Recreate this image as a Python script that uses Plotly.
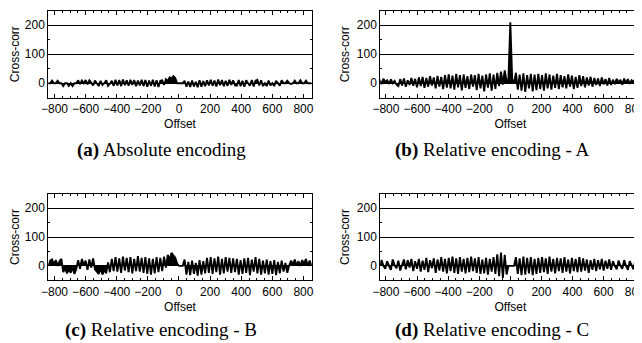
import plotly.graph_objects as go

# Offsets sampled every 12 lags (x positions of the cross-correlation samples)
offsets = list(range(-840, 853, 12))

corr_absolute = [
    0, 0, 9, 0, 0, 8, 0, 0,
    -10, 0, 0, -9, 0, -10, 0, 0,
    10, -3, 9, 0, 11, -4, 10, 2, -8, 9,
    0, -10, 8, -6, 0, 10, -9, -2, 8, -9,
    12, -8, 11, -10, 13, -7, 10, -9, 12, -6, 11, -10, 9, -8, 12,
    -10, 11, -12, 9, -9, 12, -11, 10, -13, 8,
    10, -6, 14, 8, 20, 15, 24, 18,
    0, 0, 0, 0,
    8, -12, 6, -13, 9, -11, 5, -14, 10, -12, 7, -10,
    10, -8, 12, -9, 9, -11, 13, -7, 11, -10, 8, -9, 12, -6, 10, -8,
    -9, 11, -10, 8, -12, 10, 0, -9, 11, -11, 9, 12, -8, 10, -10,
    0, -10, 9, -8, 0, -10, 8, 0, -9, 10,
    0, 0, 8, 0, -3, 0, 9, 0, 0, 10, 0, 0, 9, 0, 0, 0,
]

corr_relative_a = [
    12, -3, 15, 4, 10, -2, 13, 0, 8, -5,
    -10, 14, -8, 16, -12, 10, -6, 18, -9, 15,
    -14, 20, -10, 22, -16, 18, -12, 24, -8, 20, -18, 25, -12, 22, -20, 28,
    -15, 30, -18, 26, -22, 32, -14, 28, -25, 30, -16, 24, -20, 30, -12,
    28, -24, 32, -18, 26, -28, 30, -15, 34, -26,
    30, -20, 36, -10, 40, -5, 44,
    8, 14, 210, 14, 0,
    36, -22, 30, -26, 34, -30, 28, -18, 32, -28, 30, -24,
    32, -20, 28, -26, 34, -18, 30, -22, 26, -16, 32, -20, 28, -14, 24, -18,
    30, -12, 26, -20, 22, -16, 28, -10, 24, -14, 20, -8, 22, -12, 18,
    -6, 16, -10, 20, -4, 14, -8, 18, -6, 12,
    -3, 15, 2, 12, -5, 16, 0, 14, -2, 10, 4, 15, -3, 12, 0, 9,
]

corr_relative_b = [
    0, 18, 22, 4, 20, 0, 16, 24,
    -22, -8, -26, -12, -24, -6, -28, -10,
    20, -10, 24, 2, 18, -14, 22, -6, 26, -12,
    -20, -28, -8, -30, -14, -26, 12, -22, 24, -18,
    30, -20, 26, -24, 32, -16, 28, -22, 30, -26, 24, -18, 34, -20, 28,
    -24, 30, -28, 26, -30, 24, -26, 30, -22, 28,
    -18, 32, -6, 38, 20, 45, 36, 28,
    8, 0, 0, 0,
    22, -30, 14, -32, 18, -28, 10, -34, 20, -30, 16, -26,
    28, -24, 30, -28, 26, -22, 32, -30, 24, -26, 30, -20, 28, -24, 26, -22,
    24, -30, 20, -28, 26, -24, 28, -32, 22, -20, 30, -26, 24, -30, 18,
    -26, 22, -30, 16, -28, 20, -32, 14, -26, 18,
    -20, 10, -24, 0, 18, 4, 22, 2, 16, 0, 20, 6, 24, 0, 18, 0,
]

corr_relative_c = [
    0, 20, 0, -10, 16, 0, -14, 22, 2, -8,
    18, -16, 4, 22, -12, 20, -6, 24, -18, 16,
    -10, 24, -20, 18, -14, 28, -22, 20, -8, 26, -24, 22, -16, 30, -20, 24,
    -26, 28, -18, 32, -24, 26, -28, 30, -20, 24, -26, 28, -22, 32, -18,
    26, -24, 30, -28, 22, -26, 28, -30, 24, -20,
    30, -28, 40, -36, 46, -42, 38, -30,
    0, 0, 0, 0,
    30, -28, 26, -32, 32, -30, 28, -26, 30, -32, 24, -28,
    28, -24, 30, -22, 26, -28, 32, -20, 24, -26, 28, -18, 26, -24, 30, -20,
    22, -26, 28, -18, 24, -22, 30, -20, 26, -16, 22, -24, 20, -14, 24,
    -18, 20, -12, 24, -16, 18, -10, 22, -14, 16,
    0, -12, 18, 0, -10, 20, 0, -14, 16, 2, -12, 22, 0, -10, 18, 0,
]

captions = [
    "<b>(a)</b> Absolute encoding",
    "<b>(b)</b> Relative encoding - A",
    "<b>(c)</b> Relative encoding - B",
    "<b>(d)</b> Relative encoding - C",
]
series = [corr_absolute, corr_relative_a, corr_relative_b, corr_relative_c]
x_tick_values = [-800, -600, -400, -200, 0, 200, 400, 600, 800]
y_tick_values = [0, 100, 200]

# The page body has an 8px margin; lay out in window pixels and shift.
PAD = 8
W, H = 642 - PAD, 343 - PAD
# panel boxes in window pixels: (left, right, top, bottom)
boxes = [
    (48.3, 311.7, 10.7, 97.7),
    (380.3, 640.5, 10.7, 97.7),
    (48.3, 311.7, 193.7, 280.3),
    (380.3, 640.5, 193.7, 280.3),
]
xranges = [[-840, 853], [-836, 837], [-840, 853], [-836, 837]]
caption_pos = [(161, 150), (492, 150), (161, 330), (491.5, 330)]

fig = go.Figure()
sans = "Liberation Sans, Arial, Helvetica, sans-serif"

for k, vals in enumerate(series):
    n = "" if k == 0 else str(k + 1)
    fig.add_trace(go.Scatter(
        x=offsets, y=vals, mode="lines",
        line=dict(color="black", width=1.9, simplify=False),
        fill="tozeroy", fillcolor="black",
        xaxis="x" + n, yaxis="y" + n, showlegend=False, hoverinfo="skip",
    ))
    l, r, t, b = [v - PAD for v in boxes[k]]
    xa = dict(
        domain=[l / W, r / W], range=xranges[k], anchor="y" + n,
        tickmode="array", tickvals=x_tick_values,
        ticks="inside", ticklen=4, tickcolor="black", tickwidth=1,
        minor=dict(dtick=50, tick0=0, ticks="inside", ticklen=2, tickcolor="black", showgrid=False),
        showline=True, linecolor="black", linewidth=1, mirror="allticks",
        showgrid=False, zeroline=False, ticklabeloverflow="allow",
        tickfont=dict(family=sans, size=12, color="black"),
        title=dict(text="Offset", font=dict(family=sans, size=12, color="black"), standoff=4),
        automargin=False,
    )
    ya = dict(
        domain=[(H - b) / H, (H - t) / H], range=[-50, 250], anchor="x" + n,
        tickmode="array", tickvals=y_tick_values,
        ticks="inside", ticklen=4, tickcolor="black", tickwidth=1,
        minor=dict(dtick=50, tick0=0, ticks="inside", ticklen=2, tickcolor="black", showgrid=False),
        showline=True, linecolor="black", linewidth=1, mirror="allticks",
        showgrid=True, gridcolor="black", gridwidth=1,
        zeroline=True, zerolinecolor="black", zerolinewidth=1,
        tickfont=dict(family=sans, size=12, color="black"),
        title=dict(text="Cross-corr", font=dict(family=sans, size=12, color="black"), standoff=4),
        automargin=False,
    )
    fig.layout["xaxis" + n] = xa
    fig.layout["yaxis" + n] = ya
    cx, cy = caption_pos[k]
    fig.add_annotation(
        text=captions[k], x=(cx - PAD) / W, y=(H - (cy - PAD)) / H,
        xref="paper", yref="paper",
        xanchor="center", yanchor="middle", showarrow=False,
        font=dict(family="Liberation Serif, Times New Roman, serif", size=19, color="black"),
    )

fig.update_layout(
    width=W, height=H, margin=dict(l=0, r=0, t=0, b=0),
    paper_bgcolor="white", plot_bgcolor="white",
)
fig.write_html("out.html")
